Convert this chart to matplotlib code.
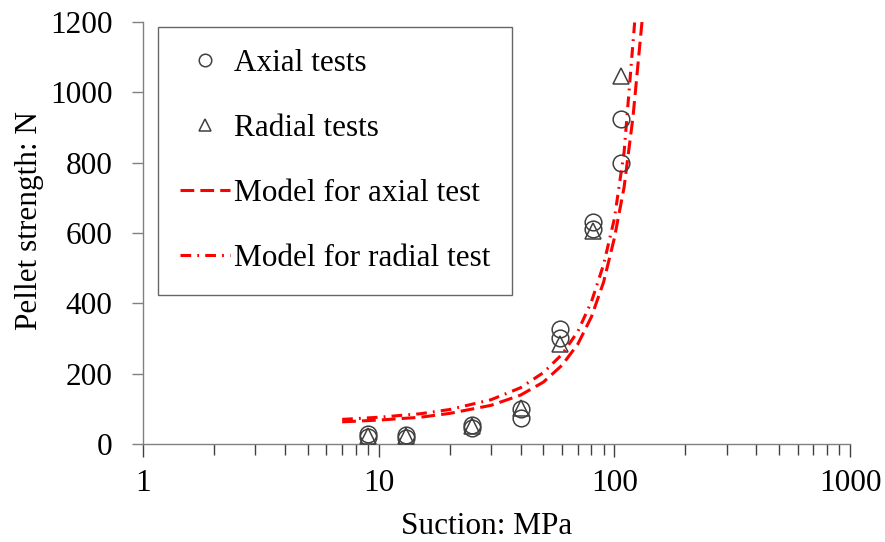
import matplotlib
matplotlib.use("Agg")
import matplotlib.pyplot as plt

# --- data ---
suction_axial = [9, 9, 13, 13, 25, 25, 40, 40, 59, 59, 81, 81, 106.5, 106.5]
strength_axial = [28, 20, 25, 18, 54, 45, 100, 73, 328, 302, 630, 612, 924, 800]

suction_radial = [9, 13, 25, 40, 59, 81, 106.5]
strength_radial = [22, 22, 50, 103, 284, 606, 1047]

model_axial_x = [7, 10, 15, 20, 30, 40, 50, 60, 70, 80, 90, 100, 110, 120, 131]
model_axial_y = [63, 68, 76, 87, 110, 139, 176, 224, 284, 362, 460, 585, 730, 930, 1200]

model_radial_x = [7, 10, 15, 20, 30, 40, 50, 60, 70, 80, 90, 100, 110, 122]
model_radial_y = [70, 76, 86, 98, 126, 160, 203, 255, 320, 405, 510, 640, 830, 1200]

x_ticks = [1, 10, 100, 1000]
x_ticklabels = ["1", "10", "100", "1000"]
y_ticks = [0, 200, 400, 600, 800, 1000, 1200]

plt.rcParams['font.family'] = ['Liberation Serif', 'DejaVu Serif']
FS = 22.5

fig = plt.figure(figsize=(8.85, 5.42), dpi=100)
ax = fig.add_axes([143/885, 1-444/542, (850-143)/885, (444-22)/542])

ax.plot(model_axial_x, model_axial_y, color='#ff0000', lw=2.2,
        dashes=(4.5, 2.0), label='Model for axial test', zorder=2)
ax.plot(model_radial_x, model_radial_y, color='#ff0000', lw=2.2,
        dashes=(3.5, 2.0, 0.6, 2.0), label='Model for radial test', zorder=2)
ax.plot(suction_axial, strength_axial, linestyle='none', marker='o', ms=12,
        mfc='none', mec='#404040', mew=1.1, label='Axial tests', zorder=3)
ax.plot(suction_radial, strength_radial, linestyle='none', marker='^', ms=12,
        mfc='none', mec='#404040', mew=1.1, label='Radial tests', zorder=3)

ax.set_xscale('log')
ax.set_xlim(1, 1000)
ax.set_ylim(0, 1200)
ax.set_xticks(x_ticks)
ax.set_xticklabels(x_ticklabels)
ax.set_yticks(y_ticks)
ax.spines['top'].set_visible(False)
ax.spines['right'].set_visible(False)
for s in ('left', 'bottom'):
    ax.spines[s].set_color('#808080')
    ax.spines[s].set_linewidth(1.0)

ax.tick_params(axis='x', which='major', direction='out', length=9, width=1,
               color='#404040', labelsize=FS, pad=9)
ax.tick_params(axis='x', which='minor', direction='out', length=8, width=1,
               color='#404040')
ax.tick_params(axis='y', which='major', direction='out', length=8, width=1,
               color='#808080', labelsize=FS, pad=14)

ax.set_xlabel('Suction: MPa', fontsize=FS)
ax.set_ylabel('Pellet strength: N', fontsize=FS)
ax.xaxis.set_label_coords((487-143)/707, -0.16)
ax.yaxis.set_label_coords(-0.14, (444-220)/422)

h, l = ax.get_legend_handles_labels()
order = [2, 3, 0, 1]
leg = ax.legend([h[i] for i in order], [l[i] for i in order],
                loc='upper left', bbox_to_anchor=((158-143)/707, (444-27)/422),
                fontsize=FS, frameon=True, fancybox=False, edgecolor='#404040',
                labelspacing=1.15, handlelength=1.6, handletextpad=0.12,
                borderpad=0.7, borderaxespad=0, markerscale=0.75)
leg.get_frame().set_linewidth(1.0)

fig.savefig('out.png', dpi=100)
